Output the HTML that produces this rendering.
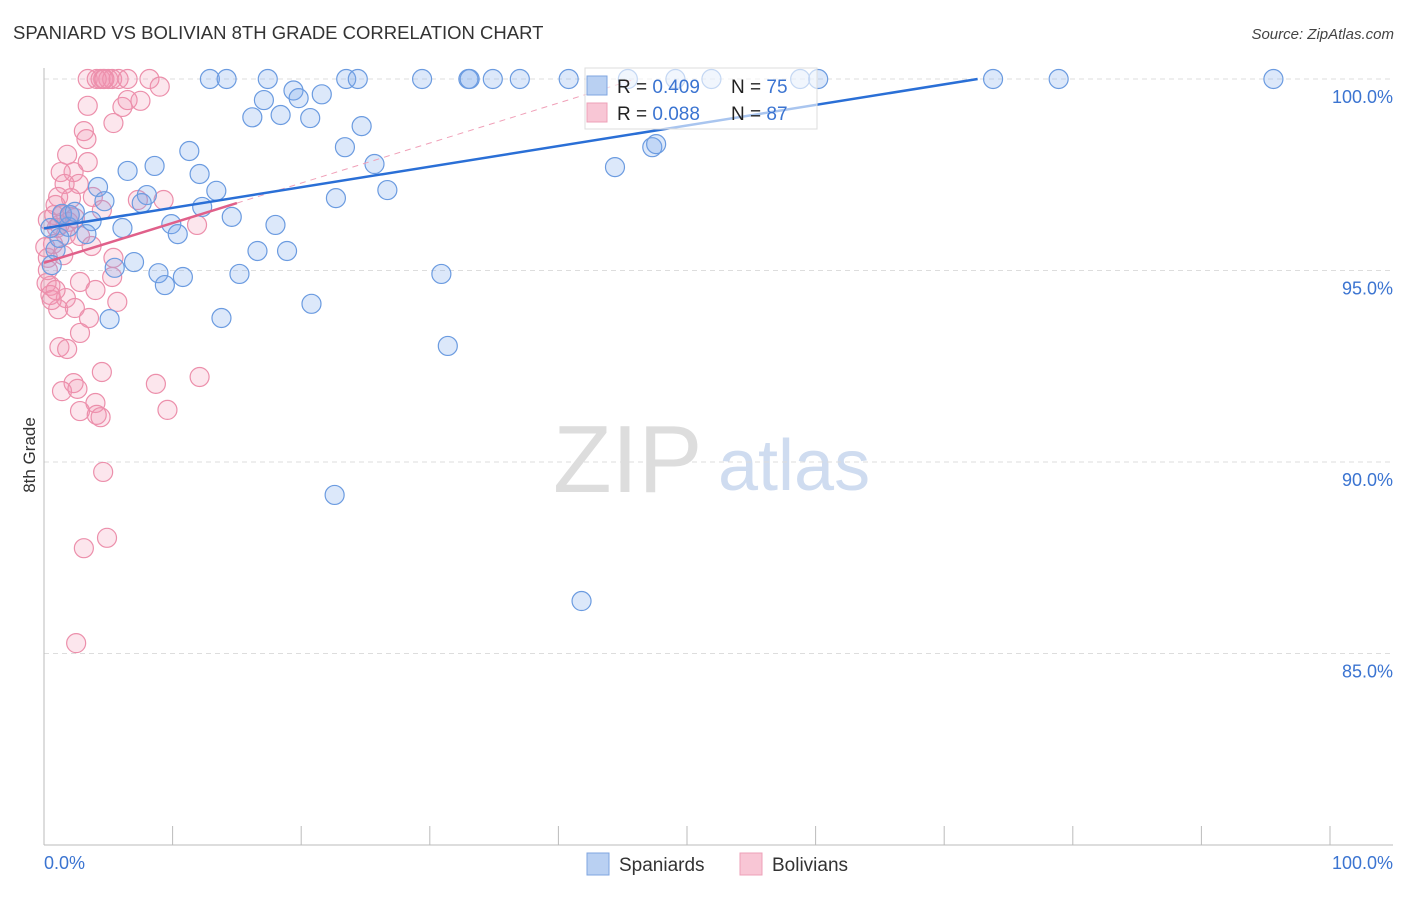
<!DOCTYPE html>
<html><head><meta charset="utf-8"><style>
body{margin:0;background:#fff;font-family:"Liberation Sans",sans-serif;}
svg text{font-family:"Liberation Sans",sans-serif;}
</style></head><body>
<svg id="chart" width="1406" height="892" viewBox="0 0 1406 892" xmlns="http://www.w3.org/2000/svg">
<text x="13" y="39" font-size="18.5" fill="#333">SPANIARD VS BOLIVIAN 8TH GRADE CORRELATION CHART</text>
<text x="1394" y="39" font-size="15" fill="#444" font-style="italic" text-anchor="end">Source: ZipAtlas.com</text>
<g>
<text x="553" y="492" font-size="96" font-family="Liberation Serif,serif" fill="#ddd">ZIP</text>
<text x="718" y="490" font-size="72" fill="#cfdcf0">atlas</text>
</g>
<g id="grid"></g>
<g id="axes"></g>
<g id="marks"></g>
<g id="trends"></g>
<text x="35" y="455" font-size="17" fill="#333" text-anchor="middle" transform="rotate(-90 35 455)">8th Grade</text>
<g>
<rect x="585" y="68" width="232" height="61" fill="#fff" fill-opacity="0.6" stroke="#ddd"/>
<rect x="587" y="76" width="20" height="19" fill="#b9d0f2" stroke="#7fa6e0"/>
<rect x="587" y="103" width="20" height="19" fill="#f8c6d5" stroke="#eea0b8"/>
<text x="617" y="93" font-size="19" fill="#222">R = <tspan fill="#3b74d1">0.409</tspan></text>
<text x="731" y="93" font-size="19" fill="#222">N = <tspan fill="#3b74d1">75</tspan></text>
<text x="617" y="120" font-size="19" fill="#222">R = <tspan fill="#3b74d1">0.088</tspan></text>
<text x="731" y="120" font-size="19" fill="#222">N = <tspan fill="#3b74d1">87</tspan></text>
</g>
<g>
<rect x="587" y="853" width="22" height="22" fill="#b9d0f2" stroke="#7fa6e0"/>
<text x="619" y="871" font-size="19" fill="#333">Spaniards</text>
<rect x="740" y="853" width="22" height="22" fill="#f8c6d5" stroke="#eea0b8"/>
<text x="772" y="871" font-size="19" fill="#333">Bolivians</text>
</g>
</svg>
<script>
const blueX=[12.9,14.2,17.4,23.5,24.4,29.4,33.0,33.1,34.9,37.0,40.8,45.4,49.1,51.9,58.8,60.2,73.8,78.9,95.6,19.4,17.1,19.8,21.6,16.2,18.4,20.7,24.7,23.4,11.3,8.6,6.5,12.1,25.7,8.0,4.2,13.4,4.7,26.7,22.7,7.6,12.3,14.6,3.7,9.9,18.0,6.1,10.4,3.3,1.9,16.6,18.9,7.0,5.5,8.9,10.8,15.2,9.4,30.9,20.8,13.8,5.1,31.4,22.6,41.8,44.4,47.3,47.6,0.9,0.6,1.2,1.4,0.5,2.0,2.4];
const blueY=[100,100,100,100,100,100,100,100,100,100,100,100,100,100,100,100,100,100,100,99.7,99.45,99.5,99.6,99.0,99.06,98.98,98.77,98.22,98.12,97.73,97.6,97.52,97.78,96.97,97.18,97.08,96.81,97.1,96.89,96.76,96.66,96.4,96.29,96.21,96.19,96.11,95.95,95.95,96.14,95.51,95.51,95.22,95.07,94.93,94.83,94.91,94.62,94.91,94.13,93.76,93.73,93.03,89.14,86.37,97.7,98.22,98.3,95.54,95.14,95.85,96.48,96.11,96.45,96.53];
const pinkX=[3.4,4.4,4.6,5.0,5.3,5.8,6.5,8.2,4.1,4.7,9.0,3.4,6.1,6.5,7.5,5.4,3.1,3.3,1.8,3.4,2.3,1.3,2.7,1.6,1.1,2.1,3.8,4.5,7.3,0.8,1.4,2.0,0.3,1.0,1.7,2.8,0.7,3.7,5.4,0.3,1.5,5.3,2.8,0.5,4.0,1.7,5.7,1.1,2.4,3.5,2.8,1.2,1.8,11.9,9.3,12.1,4.5,8.7,2.3,1.4,2.6,4.0,2.8,4.1,4.4,9.6,4.6,3.1,4.9,2.5,0.3,0.2,0.5,0.6,0.9,0.1,1.2,1.9,0.9,2.4];
const pinkY=[100,100,100,100,100,100,100,100,100,100,99.8,99.3,99.27,99.45,99.43,98.85,98.64,98.43,98.02,97.83,97.57,97.57,97.26,97.26,96.92,96.89,96.92,96.58,96.84,96.45,96.45,96.45,96.32,96.11,95.93,95.9,95.69,95.64,95.33,95.33,95.4,94.83,94.7,94.6,94.49,94.28,94.18,93.99,94.02,93.76,93.37,93.0,92.95,96.19,96.84,92.22,92.35,92.04,92.06,91.85,91.91,91.54,91.33,91.23,91.17,91.36,89.74,87.75,88.02,85.27,95.01,94.67,94.36,94.23,94.49,95.61,96.19,96.27,96.71,96.37];
const yTicks=[100,95,90,85];
const yTickLabels=["100.0%","95.0%","90.0%","85.0%"];
const xTickCount=10;
const blueTrend=[0,96.1,72.6,100];
const pinkTrend=[0,95.2,15,96.76];
const pinkDash=[15,96.76,46,100];

const X0=44,X1=1330,Ytop=79,Ybot=845;
const sx=v=>X0+(v/100)*(X1-X0);
const sy=v=>Ytop+(100-v)/20*(Ybot-Ytop);
const NS="http://www.w3.org/2000/svg";
function mk(tag,attrs,parent){const e=document.createElementNS(NS,tag);for(const k in attrs)e.setAttribute(k,attrs[k]);parent.appendChild(e);return e;}
const grid=document.getElementById('grid'),axes=document.getElementById('axes'),marks=document.getElementById('marks'),trends=document.getElementById('trends');
yTicks.forEach((t,i)=>{
  const l=mk('line',{x1:X0,x2:1393,y1:sy(t),y2:sy(t),stroke:'#ddd','stroke-dasharray':'5,4'},grid);
  
  
  const tx=mk('text',{x:1393,y:sy(t)+24,'font-size':18,fill:'#3b74d1','text-anchor':'end'},axes);
  tx.textContent=yTickLabels[i];
  
  
});
mk('line',{x1:X0,x2:X0,y1:68,y2:Ybot,stroke:'#bbb'},axes);
mk('line',{x1:X0,x2:1393,y1:Ybot,y2:Ybot,stroke:'#bbb'},axes);
for(let i=0;i<=xTickCount;i++){
  const x=sx(i*100/xTickCount);
  const t=mk('line',{x1:x,x2:x,y1:826,y2:Ybot,stroke:'#bbb'},axes);
  
  
}
const xl=mk('text',{x:44,y:869,'font-size':18,fill:'#3b74d1'},axes);xl.textContent='0.0%';


const xr=mk('text',{x:1393,y:869,'font-size':18,fill:'#3b74d1','text-anchor':'end'},axes);xr.textContent='100.0%';


pinkX.forEach((v,i)=>{
  const c=mk('circle',{cx:sx(v),cy:sy(pinkY[i]),r:9.5,fill:'rgba(244,150,180,0.24)',stroke:'#ec8fab','stroke-width':1.2},marks);
  
  
});
blueX.forEach((v,i)=>{
  const c=mk('circle',{cx:sx(v),cy:sy(blueY[i]),r:9.5,fill:'rgba(120,165,235,0.26)',stroke:'#6b9be0','stroke-width':1.2},marks);
  
  
});
const pd=mk('line',{x1:sx(pinkDash[0]),y1:sy(pinkDash[1]),x2:sx(pinkDash[2]),y2:sy(pinkDash[3]),stroke:'#f0a0b8','stroke-width':1,'stroke-dasharray':'6,5'},trends);


const bt=mk('line',{x1:sx(blueTrend[0]),y1:sy(blueTrend[1]),x2:sx(blueTrend[2]),y2:sy(blueTrend[3]),stroke:'#2a6fd6','stroke-width':2.5},trends);


const pt=mk('line',{x1:sx(pinkTrend[0]),y1:sy(pinkTrend[1]),x2:sx(pinkTrend[2]),y2:sy(pinkTrend[3]),stroke:'#e0608a','stroke-width':2.5},trends);


</script>
</body></html>
